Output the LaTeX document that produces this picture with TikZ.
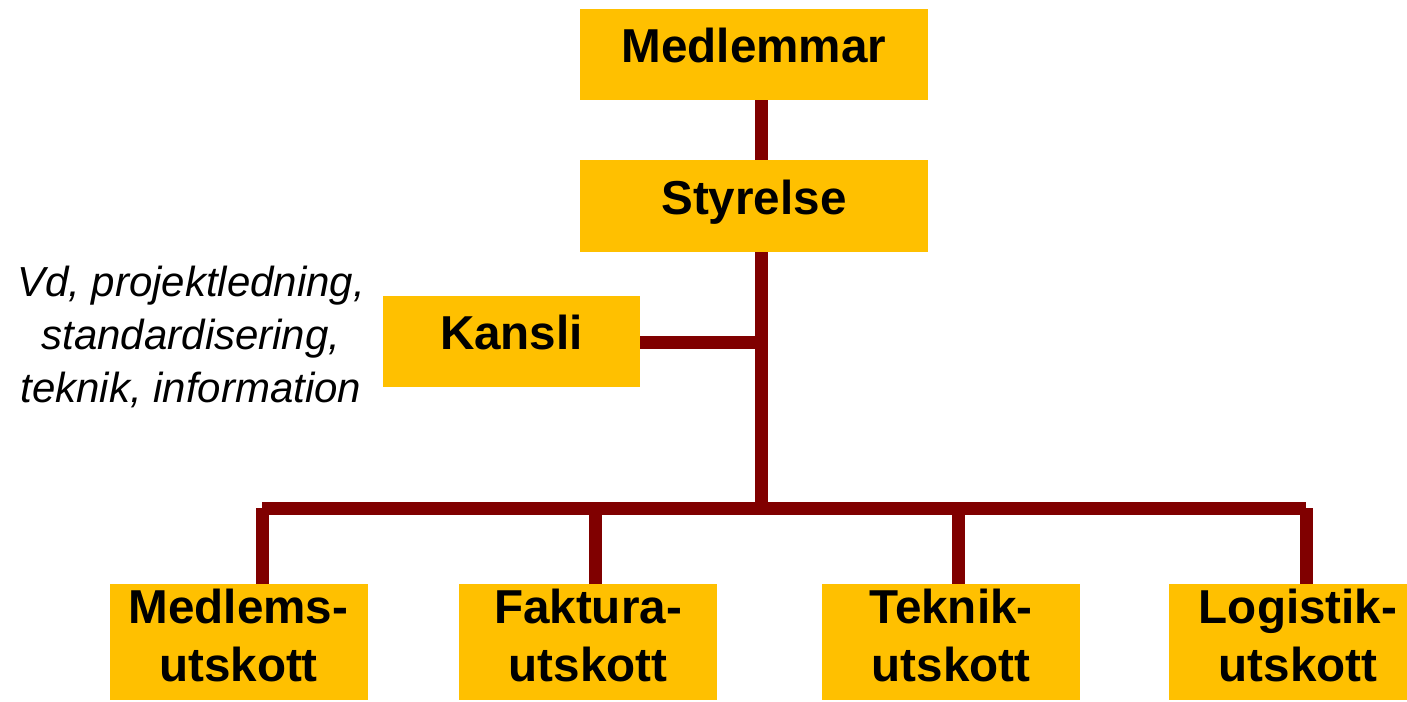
\documentclass[tikz,border=0pt]{standalone}
\usepackage{fontspec}
\setmainfont{Liberation Sans}
\usepackage{tikz}
\usetikzlibrary{positioning}
\definecolor{boxyellow}{HTML}{FFC000}
\definecolor{linkred}{HTML}{800000}
\begin{document}
\begin{tikzpicture}[x=0.5pt, y=-0.5pt,
    orgbox/.style={rectangle, fill=boxyellow, inner sep=0pt, align=center,
        font=\fontsize{23.8}{29.2}\selectfont\bfseries},
    onebox/.style={orgbox, minimum height=45.5pt, text height=17pt, text depth=8.5pt},
    twobox/.style={orgbox, minimum width=129pt, minimum height=58pt, text depth=6.5pt},
    link/.style={draw=linkred, line width=6.5pt}]
    \useasboundingbox (0,0) rectangle (1407,701);

    % === Top: members and board ===
    \node[onebox, minimum width=174pt] (medlemmar) at (754,54.5) {Medlemmar};
    \node[onebox, minimum width=174pt, minimum height=46pt] (styrelse) at (754,206) {Styrelse};

    % Office with its tasks
    \node[onebox, minimum width=128.5pt] (kansli) at (511.5,341) {Kansli};
    \node[font=\fontsize{21}{26.5}\selectfont\itshape, align=center] (uppgifter) at (191,337)
        {Vd, projektledning,\\standardisering,\\teknik, information};

    % === Bottom: committees ===
    \node[twobox] (medlems) at (238.5,642) {Medlems-\\utskott};
    \node[twobox] (faktura) at (588,642) {Faktura-\\utskott};
    \node[twobox] (teknik) at (951,642) {Teknik-\\utskott};
    \node[twobox] (logistik) at (1298,642) {Logistik-\\utskott};

    % Trunk and bus
    \coordinate (trunk) at (761,508);
    \coordinate (busA) at (262,508);
    \coordinate (busB) at (595,508);
    \coordinate (busC) at (958,508);
    \coordinate (busD) at (1306,508);

    \draw[link] (medlemmar.south -| trunk) -- (styrelse.north -| trunk);
    \draw[link] (styrelse.south -| trunk) -- (trunk);
    \draw[link] (kansli.east |- 0,342) -- (trunk |- 0,342);
    \draw[link] (busA) -- (busD);

    % Drops to the committees
    \draw[link] (busA) -- (medlems.north -| busA);
    \draw[link] (busB) -- (faktura.north -| busB);
    \draw[link] (busC) -- (teknik.north -| busC);
    \draw[link] (busD) -- (logistik.north -| busD);
\end{tikzpicture}
\end{document}
